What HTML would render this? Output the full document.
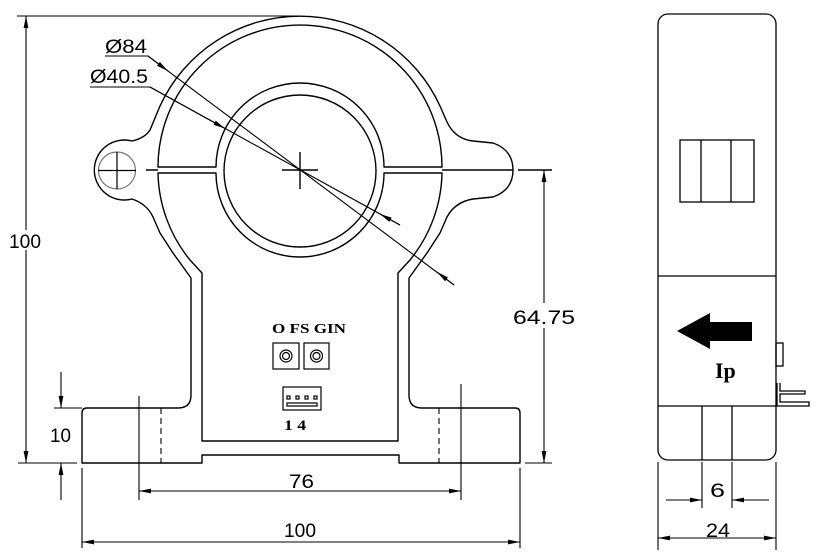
<!DOCTYPE html>
<html><head><meta charset="utf-8"><style>
html,body{margin:0;padding:0;background:#fff;}
svg{display:block;}
.t{font-family:"Liberation Sans",sans-serif;font-size:19px;fill:#000;}
.b{font-family:"Liberation Serif",serif;font-weight:bold;fill:#000;}
</style></head><body>
<svg width="825" height="560" viewBox="0 0 825 560" xmlns="http://www.w3.org/2000/svg">
<defs>
<marker id="a" viewBox="0 0 12 6" refX="12" refY="3" markerWidth="12" markerHeight="6" markerUnits="userSpaceOnUse" orient="auto">
<path d="M0,0.6 L12,3 L0,5.4 Z" fill="#000"/></marker>
</defs>
<g fill="none" stroke="#000" stroke-width="1.4" stroke-linejoin="round">
<path d="M82,463 L82,413 Q82,408 87,408 L178,408 Q191,408 191,395 L191,278 L173,253 L160,233 L153,217 Q147,204 132,199 A30,30 0 1 1 132,141 Q145,138 150,130 L160,106 A154,154 0 0 1 440,106 L447,122 Q455,139 473,141 L493,143 Q513,150 513,170 Q513,190 493,197 L473,199 Q455,202 447,217 L440,233 L427,253 L409,278 L409,395 Q409,408 422,408 L515,408 Q520,408 520,413 L520,463 L399,463 L399,455 L202,455 L202,463 Z"/>
<path d="M202,441 L202,273 L190,260 A142,142 0 0 1 158,173 L216,173 A84,84 0 0 0 384,173 L442,173 A142,142 0 0 1 410,260 L398,273 L398,441 Z"/>
<path d="M158,167 L216,167 A84,84 0 0 1 384,167 L442,167 A142,142 0 0 0 158,167 Z"/>
<circle cx="300" cy="171" r="76"/>
<path d="M146,170 L158,170 M442,170 L513,170 M518,170 L552,170 M282,170 L318,170 M300,152 L300,189"/>
</g>
<g fill="none" stroke="#777" stroke-width="1.2"><circle cx="117" cy="170.5" r="18.5"/></g>
<path d="M98,170.5 L136,170.5 M117,152 L117,189" stroke="#000" stroke-width="1.2"/>
<g stroke="#000" stroke-width="1.1" fill="none">
<path d="M105,56 L148,56 L454,285"/>
<path d="M148,56 L168,71" marker-end="url(#a)"/>
<path d="M454,285 L437,272" marker-end="url(#a)"/>
<path d="M90,87 L150,87 L400,225"/>
<path d="M150,87 L225,128.5" marker-end="url(#a)"/>
<path d="M400,225 L380,214" marker-end="url(#a)"/>
</g>
<text class="t" x="105" y="53" textLength="42" lengthAdjust="spacingAndGlyphs">Ø84</text>
<text class="t" x="90" y="83" textLength="58" lengthAdjust="spacingAndGlyphs">Ø40.5</text>
<g stroke="#000" stroke-width="1.1" fill="none">
<path d="M17,16 L300,16 M18,463 L77,463 M54,408 L82,408 M525,463 L552,463"/>
<path d="M26,240 L26,16" marker-end="url(#a)"/>
<path d="M26,240 L26,463" marker-end="url(#a)"/>
<path d="M61,372 L61,408" marker-end="url(#a)"/>
<path d="M61,500 L61,463" marker-end="url(#a)"/>
<path d="M544,303 L544,170" marker-end="url(#a)"/>
<path d="M544,328 L544,463" marker-end="url(#a)"/>
<path d="M139,396 L139,500 M461,384 L461,500"/>
<path d="M161,408 L161,463 M439,408 L439,463" stroke-dasharray="6,4"/>
<path d="M300,491 L139,491" marker-end="url(#a)"/>
<path d="M300,491 L461,491" marker-end="url(#a)"/>
<path d="M82,468 L82,548 M520,468 L520,548"/>
<path d="M300,542 L82,542" marker-end="url(#a)"/>
<path d="M300,542 L520,542" marker-end="url(#a)"/>
</g>
<rect x="6" y="230" width="38" height="20" fill="#fff"/>
<text class="t" x="9" y="248" textLength="32" lengthAdjust="spacingAndGlyphs">100</text>
<text class="t" x="50" y="442" textLength="21" lengthAdjust="spacingAndGlyphs">10</text>
<rect x="511" y="304" width="66" height="24" fill="#fff"/>
<text class="t" x="513" y="324" textLength="62" lengthAdjust="spacingAndGlyphs">64.75</text>
<text class="t" x="289" y="488" textLength="25" lengthAdjust="spacingAndGlyphs">76</text>
<text class="t" x="284" y="537" textLength="32" lengthAdjust="spacingAndGlyphs">100</text>
<text class="b" x="272" y="333" font-size="14" textLength="74" lengthAdjust="spacingAndGlyphs">O FS GIN</text>
<g fill="none" stroke="#000" stroke-width="1.2">
<rect x="273" y="343" width="26" height="26"/>
<rect x="304" y="343" width="25" height="26"/>
<circle cx="286" cy="356" r="6"/><circle cx="286" cy="356" r="3.5"/>
<circle cx="316.5" cy="356" r="6"/><circle cx="316.5" cy="356" r="3.5"/>
<rect x="283" y="387" width="38" height="23"/>
<path d="M287,406 L317,406 L317,403 L287,403 Z"/>
<rect x="287" y="396" width="3" height="3"/><rect x="296" y="396" width="3" height="3"/><rect x="305" y="396" width="3" height="3"/><rect x="314" y="396" width="3" height="3"/>
</g>
<text class="b" x="284" y="430" font-size="15" textLength="22" lengthAdjust="spacingAndGlyphs">1 4</text>
<g fill="none" stroke="#000" stroke-width="1.3">
<rect x="658" y="14" width="118" height="446" rx="10"/>
<path d="M658,276 L776,276 M658,406 L776,406 M702,406 L702,460 M732,406 L732,460"/>
<rect x="680" y="140" width="74" height="62"/>
<path d="M701,140 L701,202 M731,140 L731,202"/>
<rect x="776" y="343" width="7" height="23"/>
<path d="M777,383 L777,406 L809,406 L809,402 L780,402 L780,394 L805,394 L805,391 L780,391 L780,383"/>
</g>
<path d="M677,331 L710,313 L710,322 L752,322 L752,341 L710,341 L710,349 Z" fill="#000"/>
<text class="b" x="715" y="378" font-size="22">Ip</text>
<g stroke="#000" stroke-width="1.1" fill="none">
<path d="M658,462 L658,550 M776,462 L776,550 M702,462 L702,508 M732,462 L732,508"/>
<path d="M666,500 L702,500" marker-end="url(#a)"/>
<path d="M769,500 L732,500" marker-end="url(#a)"/>
<path d="M717,538 L658,538" marker-end="url(#a)"/>
<path d="M717,538 L776,538" marker-end="url(#a)"/>
</g>
<text class="t" x="710" y="497" textLength="15" lengthAdjust="spacingAndGlyphs">6</text>
<text class="t" x="706" y="537" textLength="24" lengthAdjust="spacingAndGlyphs">24</text>
</svg>
</body></html>
